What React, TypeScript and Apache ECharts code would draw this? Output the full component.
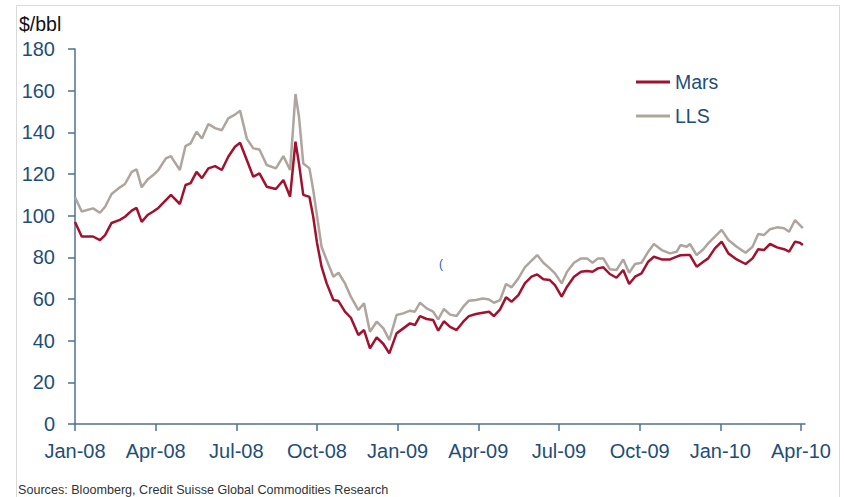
import React, { useEffect, useRef } from "react";
import * as echarts from "echarts";

// Months since Jan-08 (fractional)
const months = [
  0, 0.25, 0.67, 0.93, 1.12, 1.36, 1.67, 1.86, 2.11, 2.29, 2.48, 2.7, 2.91, 3.1, 3.38, 3.57, 3.64, 3.9,
  4.11, 4.3, 4.52, 4.72, 4.96, 5.21, 5.46, 5.7, 5.95, 6.14, 6.39, 6.63, 6.86, 7.13, 7.47, 7.75, 8.0,
  8.2, 8.33, 8.49, 8.72, 8.86, 9.0, 9.17, 9.36, 9.61, 9.8, 10.04, 10.26, 10.54, 10.75, 10.97, 11.22,
  11.47, 11.69, 11.96, 12.21, 12.46, 12.64, 12.83, 13.08, 13.32, 13.51, 13.72, 13.95, 14.19, 14.44,
  14.65, 14.91, 15.17, 15.4, 15.58, 15.81, 16.03, 16.24, 16.49, 16.73, 16.98, 17.19, 17.42, 17.66,
  17.85, 18.1, 18.3, 18.56, 18.82, 19.04, 19.25, 19.45, 19.65, 19.89, 20.14, 20.39, 20.61, 20.83,
  21.07, 21.32, 21.53, 21.82, 22.13, 22.38, 22.52, 22.75, 22.87, 23.12, 23.37, 23.55, 23.8, 24.05,
  24.3, 24.61, 24.94, 25.2, 25.41, 25.62, 25.85, 26.11, 26.37, 26.56, 26.78, 26.96, 27.07,
];

const mars = [
  97, 90, 90, 88.3, 90.7, 96.5, 98, 99.5, 102.4, 103.7, 97, 100.3, 102, 103.7, 107.5, 110, 109, 105.6,
  114.7, 115.6, 121, 118, 122.7, 123.8, 121.9, 128.3, 133.1, 135, 126.7, 118.7, 120.3, 113.9, 112.8,
  117.1, 109.1, 135.5, 125, 110, 109, 99.5, 87, 75.5, 67.5, 59.5, 59, 53.9, 51, 42.7, 45.1, 36.3,
  41.6, 38.4, 33.9, 43.5, 45.9, 48.3, 47.5, 51.8, 50.4, 49.9, 44.8, 49.3, 46.6, 45.1, 49.1, 51.8,
  52.8, 53.4, 53.9, 51.8, 55, 60.8, 58.7, 61.9, 67.5, 70.7, 71.8, 69.5, 69.1, 66.7, 61.1, 65.9, 70.7,
  73.1, 73.4, 73.1, 74.7, 75.2, 72, 70.2, 73.9, 67.2, 70.7, 72.3, 77.9, 80.3, 79, 79, 80.3, 81, 81.1,
  81.1, 75.5, 77.9, 79.5, 84.3, 87.5, 81.9, 79, 76.8, 79.5, 83.9, 83.5, 86.4, 84.8, 83.9, 82.7, 87.5,
  87, 85.9,
];

const lls = [
  108.8, 102, 103.5, 101.4, 104.3, 110.4, 113.6, 115.2, 121, 122.2, 113.6, 117.4, 119.5, 121.9, 127.5,
  128.6, 127, 121.9, 133.4, 134.7, 140.3, 137, 144, 142, 141, 146.7, 148.5, 150.4, 137, 132.3, 131.8,
  124.3, 122.7, 128.6, 121.9, 158.4, 147.5, 125, 122.7, 112.3, 100, 85.1, 78.7, 70.7, 72.6, 67.5,
  61.1, 54.7, 57.9, 44.3, 49.1, 45.9, 40.3, 52.3, 53.1, 54.4, 53.9, 58.2, 55.5, 53.9, 50.2, 55.2,
  52.5, 51.8, 56.3, 59.2, 59.5, 60.2, 59.8, 58.2, 59.5, 67.2, 65.6, 69.9, 75.2, 78.4, 81.1, 77.4,
  74.7, 72.3, 67.5, 73.1, 77.4, 79.5, 79.5, 77.4, 79.5, 79.5, 74.3, 73.9, 79, 72.6, 76.8, 77.4, 82.7,
  86.4, 83.5, 81.9, 82.7, 85.9, 85.1, 86.4, 81.1, 83.9, 86.7, 89.9, 93.2, 88.3, 85.1, 82.2, 85.1,
  91.2, 90.7, 93.5, 94.4, 94, 92.3, 97.9, 95.5, 94,
];

const tickMonths = [0, 3, 6, 9, 12, 15, 18, 21, 24, 27];
const tickLabels = ["Jan-08", "Apr-08", "Jul-08", "Oct-08", "Jan-09", "Apr-09", "Jul-09", "Oct-09", "Jan-10", "Apr-10"];

const seriesNames = ["Mars", "LLS"];
const unitLabel = "$/bbl";
const sourceText = "Sources: Bloomberg, Credit Suisse Global Commodities Research";

export default function App() {
  const ref = useRef<HTMLDivElement>(null);
  useEffect(() => {
    document.body.style.margin = "0";
    const chart = echarts.init(ref.current!, null, { renderer: "svg" });
    const blue = "#1F4E79";
    const axisColor = "#4f6f8f";
    const font = "Liberation Sans, Arial, sans-serif";
    chart.setOption({
      animation: false,
      backgroundColor: "#ffffff",
      grid: { left: 75, right: 39, top: 49, bottom: 73, containLabel: false },
      legend: {
        orient: "vertical",
        left: 636,
        top: 72,
        padding: 0,
        icon: "rect",
        itemWidth: 34,
        itemHeight: 3,
        itemGap: 14,
        textStyle: { fontSize: 19.5, color: blue, fontFamily: font },
        data: seriesNames,
      },
      xAxis: {
        type: "value",
        min: 0,
        max: 27.15,
        interval: 3,
        splitLine: { show: false },
        axisLine: { lineStyle: { color: axisColor, width: 1.5 } },
        axisTick: { show: true, length: 7, customValues: tickMonths, lineStyle: { color: axisColor, width: 1.5 } },
        axisLabel: {
          customValues: tickMonths,
          margin: 17,
          fontSize: 20,
          color: blue,
          fontFamily: font,
          formatter: (v: number) => {
            const i = tickMonths.indexOf(Math.round(v));
            return i >= 0 && Math.abs(v - Math.round(v)) < 1e-6 ? tickLabels[i] : "";
          },
        },
      },
      yAxis: {
        type: "value",
        min: 0,
        max: 180,
        interval: 20,
        splitLine: { show: false },
        axisLine: { show: true, lineStyle: { color: axisColor, width: 1.5 } },
        axisTick: { show: true, length: 7, lineStyle: { color: axisColor, width: 1.5 } },
        axisLabel: { margin: 20, fontSize: 20, color: blue, fontFamily: font },
      },
      series: [
        {
          name: seriesNames[0],
          type: "line",
          data: months.map((m, i) => [m, mars[i]]),
          showSymbol: false,
          symbol: "none",
          lineStyle: { color: "#A2122F", width: 2.5 },
          itemStyle: { color: "#A2122F" },
          z: 3,
        },
        {
          name: seriesNames[1],
          type: "line",
          data: months.map((m, i) => [m, lls[i]]),
          showSymbol: false,
          symbol: "none",
          lineStyle: { color: "#ADA59E", width: 2.5 },
          itemStyle: { color: "#ADA59E" },
          z: 2,
        },
      ],
      graphic: [
        {
          type: "rect",
          shape: { x: 16.5, y: 5.5, width: 823, height: 500 },
          style: { fill: "none", stroke: "#d9d9d9", lineWidth: 1 },
          silent: true,
        },
        {
          type: "text",
          left: 19,
          top: 14,
          style: { text: unitLabel, fontSize: 19.5, fill: "#111111", fontFamily: font },
        },
        {
          type: "text",
          left: 18,
          top: 483,
          style: { text: sourceText, fontSize: 12.6, fill: "#333333", fontFamily: font },
        },
        {
          type: "text",
          left: 439,
          top: 258,
          style: { text: "(", fontSize: 12, fill: "#2a5ca8", fontFamily: font },
        },
      ],
    });
    return () => chart.dispose();
  }, []);
  return <div ref={ref} style={{ width: 844, height: 497 }} />;
}
